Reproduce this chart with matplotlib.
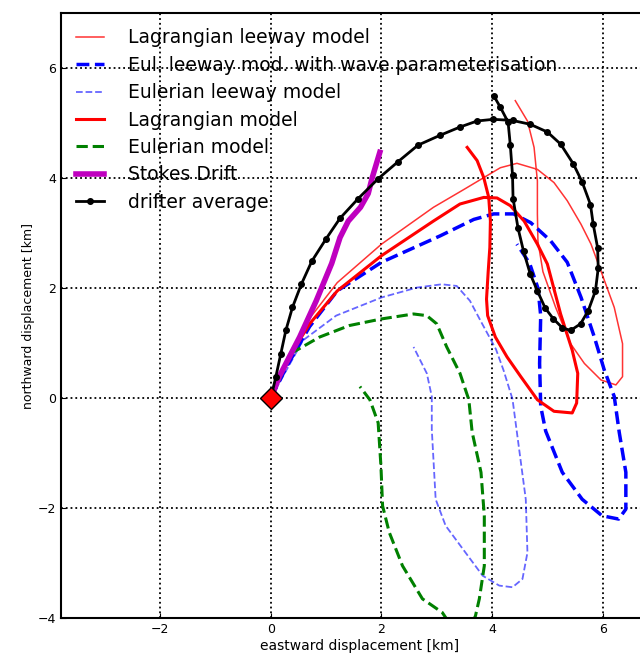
import matplotlib.pyplot as plt

# drifter average
drift_x = [0.0, 0.09, 0.18, 0.27, 0.39, 0.55, 0.74, 1.0, 1.25, 1.58, 1.94, 2.30, 2.66, 3.06, 3.42,
           3.73, 4.02, 4.37, 4.69, 5.0, 5.24, 5.47, 5.63, 5.78, 5.83, 5.91, 5.92, 5.87, 5.74, 5.6,
           5.42, 5.27, 5.11, 4.96, 4.82, 4.69, 4.57, 4.47, 4.38, 4.37, 4.33, 4.29, 4.15, 4.03]
drift_y = [0.0, 0.39, 0.81, 1.23, 1.65, 2.07, 2.49, 2.9, 3.27, 3.63, 3.99, 4.30, 4.60, 4.78, 4.93,
           5.04, 5.07, 5.05, 4.98, 4.84, 4.62, 4.26, 3.93, 3.52, 3.16, 2.73, 2.36, 1.95, 1.59, 1.35,
           1.23, 1.28, 1.44, 1.64, 1.95, 2.26, 2.67, 3.09, 3.63, 4.06, 4.60, 5.02, 5.29, 5.5]

# Stokes drift
stokes_x = [0.0, 0.15, 0.52, 0.82, 1.1, 1.25, 1.4, 1.62, 1.76, 1.83, 1.97]
stokes_y = [0.0, 0.39, 1.11, 1.77, 2.45, 2.92, 3.22, 3.47, 3.72, 4.0, 4.47]

# Lagrangian leeway model (thin red)
lleew_x = [0.0, 0.3, 0.7, 1.2, 2.0, 2.94, 3.5, 3.85, 4.15, 4.45, 4.82, 5.12, 5.36, 5.61, 5.79,
           5.97, 6.21, 6.36, 6.36, 6.24, 5.97, 5.67, 5.42, 5.15, 4.92, 4.83, 4.82, 4.82, 4.76,
           4.64, 4.42]
lleew_y = [0.0, 0.75, 1.45, 2.1, 2.8, 3.47, 3.8, 4.01, 4.19, 4.27, 4.16, 3.92, 3.59, 3.16, 2.8,
           2.31, 1.65, 0.99, 0.39, 0.24, 0.33, 0.63, 0.99, 1.65, 2.3, 2.85, 3.35, 3.95, 4.56,
           5.04, 5.41]

# Lagrangian model (thick red)
lag_x = [0.0, 0.3, 0.7, 1.2, 2.0, 2.94, 3.42, 3.85, 4.09, 4.33, 4.58, 4.82, 5.0, 5.24, 5.45,
         5.55, 5.53, 5.45, 5.12, 4.82, 4.52, 4.27, 4.06, 3.92, 3.9, 3.93, 3.96, 3.97, 3.94,
         3.85, 3.73, 3.55]
lag_y = [0.0, 0.7, 1.35, 1.95, 2.59, 3.22, 3.53, 3.65, 3.64, 3.5, 3.22, 2.8, 2.44, 1.53, 0.87,
         0.45, -0.09, -0.27, -0.24, -0.03, 0.39, 0.75, 1.11, 1.5, 1.8, 2.3, 2.74, 3.22, 3.65,
         4.01, 4.32, 4.56]

# Eul. leeway mod. with wave parameterisation (thick blue dashed)
ewave_x = [0.0, 0.3, 0.7, 1.2, 2.0, 3.06, 3.67, 4.03, 4.39, 4.7, 5.06, 5.36, 5.61, 5.85, 6.03,
           6.21, 6.3, 6.42, 6.42, 6.29, 5.99, 5.63, 5.27, 4.97, 4.88, 4.86, 4.88, 4.83, 4.68, 4.45]
ewave_y = [0.0, 0.6, 1.3, 1.95, 2.47, 2.95, 3.25, 3.35, 3.35, 3.19, 2.86, 2.47, 1.83, 1.11, 0.51,
           0.03, -0.62, -1.35, -2.02, -2.2, -2.14, -1.84, -1.35, -0.6, -0.15, 0.63, 1.5, 2.0,
           2.45, 2.8]

# Eulerian leeway model (thin blue dashed)
eleew_x = [0.0, 0.58, 1.18, 2.0, 2.64, 3.09, 3.36, 3.6, 3.79, 4.07, 4.21, 4.37, 4.49, 4.61, 4.64,
           4.55, 4.37, 4.13, 3.83, 3.52, 3.16, 2.98, 2.91, 2.91, 2.82, 2.58]
eleew_y = [0.0, 1.05, 1.5, 1.83, 2.01, 2.07, 2.04, 1.77, 1.41, 0.89, 0.5, -0.02, -0.93, -1.84,
           -2.81, -3.29, -3.44, -3.41, -3.23, -2.81, -2.32, -1.84, -0.57, 0.03, 0.45, 0.93]

# Eulerian model (green dashed)
eul_x = [0.0, 0.36, 0.88, 1.42, 2.0, 2.58, 2.82, 3.0, 3.18, 3.42, 3.58, 3.64, 3.8, 3.86, 3.86,
         3.77, 3.7, 3.55, 3.3, 3.1, 2.74, 2.38, 2.14, 2.02, 1.99, 1.94, 1.79, 1.61]
eul_y = [0.0, 0.81, 1.11, 1.32, 1.44, 1.53, 1.5, 1.35, 0.93, 0.45, -0.03, -0.62, -1.35, -2.14,
         -3.05, -3.65, -3.96, -4.3, -4.2, -3.9, -3.65, -3.05, -2.44, -1.96, -1.23, -0.45, -0.03,
         0.21]

fig = plt.figure(figsize=(6.4, 6.61), dpi=100)
ax = fig.add_axes([0.095, 0.065, 0.933, 0.915])

ax.plot(lleew_x, lleew_y, color='red', lw=1.1, alpha=0.8, label='Lagrangian leeway model')
ax.plot(ewave_x, ewave_y, '--', color='blue', lw=2.5, label='Eul. leeway mod. with wave parameterisation')
ax.plot(eleew_x, eleew_y, '--', color='blue', lw=1.3, alpha=0.6, label='Eulerian leeway model')
ax.plot(lag_x, lag_y, color='red', lw=2.2, label='Lagrangian model')
ax.plot(eul_x, eul_y, '--', color='green', lw=2.2, label='Eulerian model')
ax.plot(stokes_x, stokes_y, color='m', lw=4, label='Stokes Drift')
ax.plot(drift_x, drift_y, 'k.-', lw=2, ms=8, label='drifter average')
ax.plot([0], [0], 'D', color='red', mec='k', ms=11)

ax.set_xlim(-3.8, 7.0)
ax.set_ylim(-4, 7)
ax.set_xticks([-2, 0, 2, 4, 6])
ax.set_yticks([-4, -2, 0, 2, 4, 6])
ax.tick_params(direction='in', labelsize=9)
ax.grid(True, color='k', ls=':', lw=1.3)
ax.set_xlabel('eastward displacement [km]', fontsize=10, labelpad=2)
ax.set_ylabel('northward displacement [km]', fontsize=9, labelpad=2)
for s in ax.spines.values():
    s.set_linewidth(1.5)

ax.legend(loc='upper left', frameon=False, fontsize=13.5, handlelength=1.5,
          handletextpad=1.3, labelspacing=0.45, borderaxespad=0.4)

plt.savefig('out.png', dpi=100)
